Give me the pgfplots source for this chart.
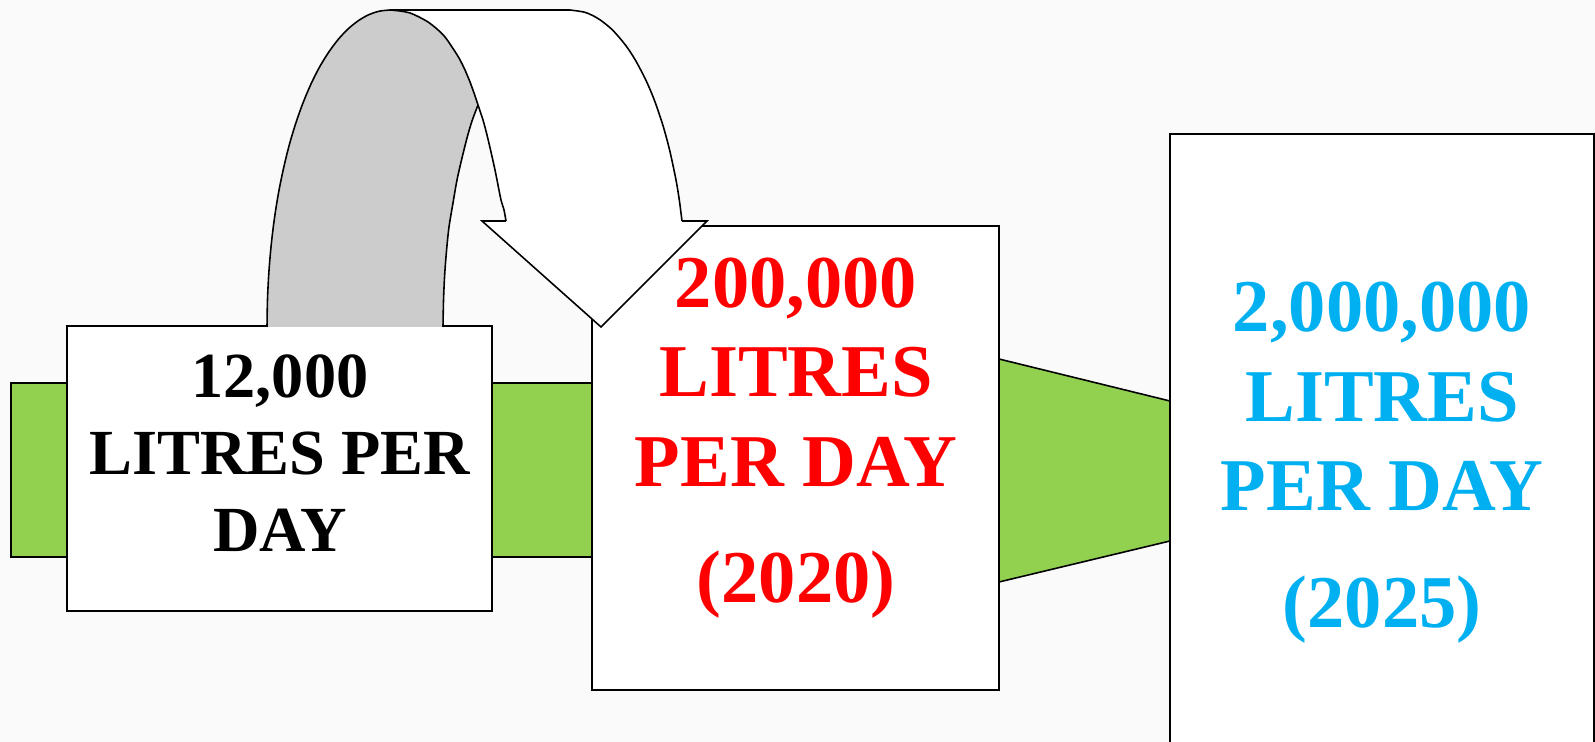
\documentclass[border=0pt]{standalone}
\usepackage{pgfplots}
\pgfplotsset{compat=1.18}
\usepackage{fontspec}
\setmainfont{Liberation Serif}
\definecolor{lgreen}{HTML}{92D050}
\definecolor{lgrey}{HTML}{CCCCCC}
\definecolor{cblue}{HTML}{00B0F0}
\definecolor{bg}{HTML}{FAFAFA}
\begin{document}
\begin{tikzpicture}
\begin{axis}[
  scale only axis, width=15.95cm, height=7.42cm,
  xmin=0, xmax=1595, ymin=0, ymax=742, y dir=reverse,
  axis lines=none, ticks=none, clip=true,
]
% background
\addplot[fill=bg, draw=none] coordinates {(0,0) (1595,0) (1595,742) (0,742)} --cycle;
% green band left
\addplot[fill=lgreen, draw=black, line width=0.45pt] coordinates {(11,383) (592,383) (592,557) (11,557)} --cycle;
% left box
\addplot[fill=white, draw=black, line width=0.45pt] coordinates {(67,326) (492,326) (492,611) (67,611)} --cycle;
% grey back of the curved arrow
\addplot[fill=lgrey, draw=none] coordinates {
 (267,327) (267.5,299.4) (268.9,272) (271.2,245) (274.4,218.6) (278.5,193) (283.5,168.5) (289.2,145.2) (295.8,123.2) (303,102.9) (310.9,84.2) (319.4,67.3) (328.5,52.5) (338,39.7) (347.9,29.1) (358.2,20.8) (368.6,14.8) (379.3,11.2) (390,10)
 (400,11) (410,13) (419,17) (428,22) (437,29) (445,37) (452,47) (459,58) (465,70) (470,82) (474,93) (478,105)
 (472,121) (467,138) (462,158) (457,180) (453,203) (449,227) (446.5,251) (444.6,276) (443.5,301) (443,327)} --cycle;
\addplot[draw=black, line width=0.45pt, smooth] coordinates {
 (267,327) (267.5,299.4) (268.9,272) (271.2,245) (274.4,218.6) (278.5,193) (283.5,168.5) (289.2,145.2) (295.8,123.2) (303,102.9) (310.9,84.2) (319.4,67.3) (328.5,52.5) (338,39.7) (347.9,29.1) (358.2,20.8) (368.6,14.8) (379.3,11.2) (390,10)};
\addplot[draw=black, line width=0.45pt, smooth] coordinates {
 (478,105) (472,121) (467,138) (462,158) (457,180) (453,203) (449,227) (446.5,251) (444.6,276) (443.5,301) (443,327)};
% middle box
\addplot[fill=white, draw=black, line width=0.45pt] coordinates {(592,226) (999,226) (999,690) (592,690)} --cycle;
% white front of the curved arrow
\addplot[fill=white, draw=none] coordinates {
 (390,10) (570,10) (583.7,12) (591.5,15) (600.3,20) (612.5,30) (625.4,45) (635.3,60) (645.8,80) (654.3,100) (662.8,125) (669.6,150) (676,180) (679.3,200) (682,221)
 (707,221) (601,327) (482,221) (506,221)
 (504,210) (501,200) (498,185) (495,170) (491,152) (487,135) (483,120) (478,105) (474,93) (470,82) (465,70) (459,58) (452,47) (445,37) (437,29) (428,22) (419,17) (410,13) (400,11)} --cycle;
\addplot[draw=black, line width=0.45pt] coordinates {(390,10) (570,10)};
\addplot[draw=black, line width=0.45pt, smooth] coordinates {
 (570,10) (583.7,12) (591.5,15) (600.3,20) (612.5,30) (625.4,45) (635.3,60) (645.8,80) (654.3,100) (662.8,125) (669.6,150) (676,180) (679.3,200) (682,221)};
\addplot[draw=black, line width=0.45pt] coordinates {(682,221) (707,221) (601,327) (482,221) (506,221)};
\addplot[draw=black, line width=0.45pt, smooth] coordinates {
 (506,221) (504,210) (501,200) (498,185) (495,170) (491,152) (487,135) (483,120) (478,105) (474,93) (470,82) (465,70) (459,58) (452,47) (445,37) (437,29) (428,22) (419,17) (410,13) (400,11) (390,10)};
% trapezoid
\addplot[fill=lgreen, draw=black, line width=0.45pt] coordinates {(999,359) (1170,401) (1170,541) (999,582)} --cycle;
% right box
\addplot[fill=white, draw=black, line width=0.6pt] coordinates {(1170,134) (1594,134) (1594,770) (1170,770)} --cycle;

% texts
\node[anchor=base, font=\fontsize{18.3}{22}\selectfont\bfseries] at (axis cs:280,398) {12,000};
\node[anchor=base, font=\fontsize{18.3}{22}\selectfont\bfseries] at (axis cs:280,475) {LITRES PER};
\node[anchor=base, font=\fontsize{18.3}{22}\selectfont\bfseries] at (axis cs:280,552) {DAY};

\node[anchor=base, text=red, font=\fontsize{21.2}{25}\selectfont\bfseries] at (axis cs:796,308) {200,000};
\node[anchor=base, text=red, font=\fontsize{21.2}{25}\selectfont\bfseries] at (axis cs:796,397) {LITRES};
\node[anchor=base, text=red, font=\fontsize{21.2}{25}\selectfont\bfseries] at (axis cs:796,487) {PER DAY};
\node[anchor=base, text=red, font=\fontsize{21.2}{25}\selectfont\bfseries] at (axis cs:796,603) {(2020)};

\node[anchor=base, text=cblue, font=\fontsize{21.2}{25}\selectfont\bfseries] at (axis cs:1382,332) {2,000,000};
\node[anchor=base, text=cblue, font=\fontsize{21.2}{25}\selectfont\bfseries] at (axis cs:1382,422) {LITRES};
\node[anchor=base, text=cblue, font=\fontsize{21.2}{25}\selectfont\bfseries] at (axis cs:1382,511) {PER DAY};
\node[anchor=base, text=cblue, font=\fontsize{21.2}{25}\selectfont\bfseries] at (axis cs:1382,627) {(2025)};
\end{axis}
\end{tikzpicture}
\end{document}
